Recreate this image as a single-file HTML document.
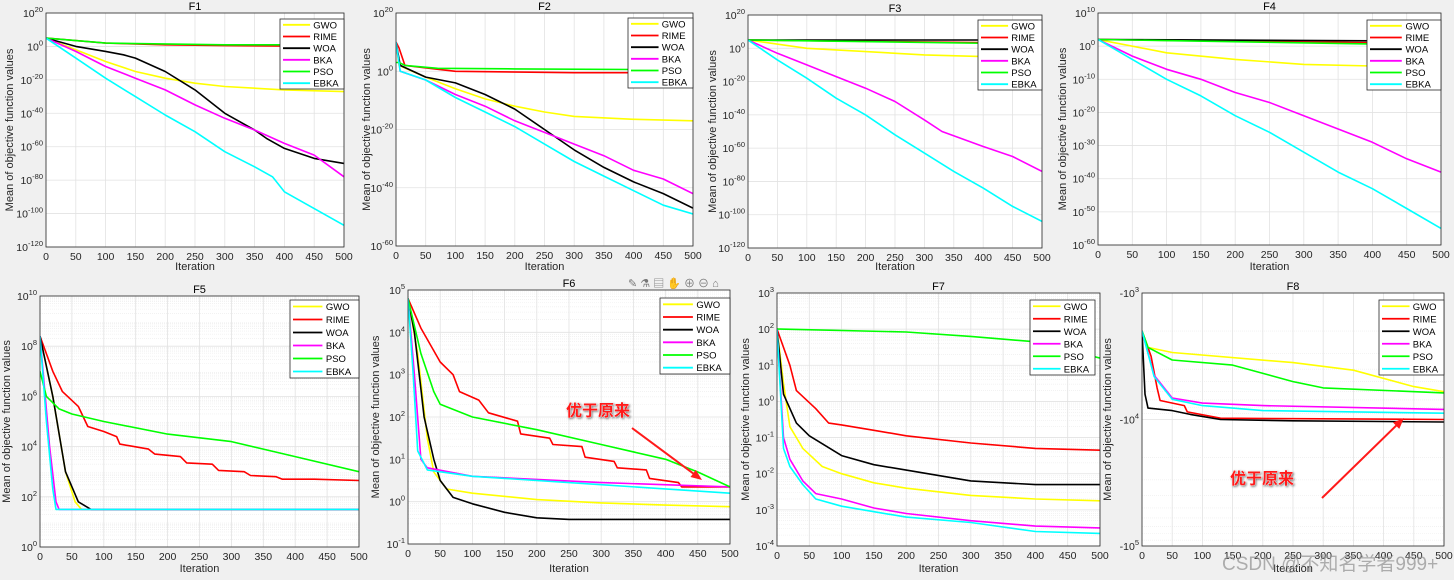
<!DOCTYPE html>
<html><head><meta charset="utf-8"><style>
html,body{margin:0;padding:0;background:#f0f0f0;}
svg{display:block;font-family:"Liberation Sans","Noto Sans CJK SC",sans-serif;}
</style></head><body>
<svg id="fig" width="1454" height="580" viewBox="0 0 1454 580" xmlns="http://www.w3.org/2000/svg">
<rect x="0" y="0" width="1454" height="580" fill="#f0f0f0"/>
</svg>
<script>
// Data: [iteration, log10(value)] pairs
const SERIES_NAMES = ["GWO","RIME","WOA","BKA","PSO","EBKA"];
const SERIES_COLORS = ["#ffff00","#ff0000","#000000","#ff00ff","#00ff00","#00ffff"];
const X_TICKS = [0,50,100,150,200,250,300,350,400,450,500];

const F1_GWO=[[0,5],[50,-2],[100,-9],[150,-15],[200,-19],[250,-22],[300,-24],[400,-26],[500,-27]];
const F1_RIME=[[0,5],[100,2],[200,1],[300,0.5],[500,0]];
const F1_WOA=[[0,5],[50,0],[100,-3],[130,-5],[150,-7],[200,-15],[250,-26],[300,-40],[350,-50],[370,-55],[400,-61],[450,-67],[500,-70]];
const F1_BKA=[[0,5],[50,-3],[100,-12],[150,-19],[200,-26],[250,-35],[300,-43],[350,-50],[400,-58],[450,-65],[500,-78]];
const F1_PSO=[[0,5],[100,2],[300,1],[500,1]];
const F1_EBKA=[[0,5],[50,-7],[100,-19],[150,-30],[200,-41],[250,-51],[300,-63],[350,-72],[380,-78],[400,-87],[450,-97],[500,-107]];

const F2_GWO=[[0,10],[5,2],[50,-2],[100,-6],[150,-9.5],[200,-12],[250,-14],[300,-15.5],[400,-16.5],[500,-17]];
const F2_RIME=[[0,10],[5,8],[15,2],[100,0],[300,-0.5],[500,-0.5]];
const F2_WOA=[[0,10],[7,2],[50,-2],[100,-4],[150,-8],[200,-13],[250,-20],[300,-27],[350,-33],[400,-38],[450,-42],[500,-47]];
const F2_BKA=[[0,10],[7,0],[50,-3],[100,-8],[150,-12],[200,-17],[250,-21],[300,-25],[350,-29],[400,-34],[450,-37],[500,-42]];
const F2_PSO=[[0,3],[5,3],[15,2],[70,1],[200,0.8],[500,0.5]];
const F2_EBKA=[[0,10],[7,0],[50,-3],[100,-9],[150,-14],[200,-19],[250,-25],[300,-31],[350,-36],[400,-41],[450,-46],[500,-49]];

const F3_GWO=[[0,5],[100,0],[200,-2],[300,-4],[400,-5],[500,-6]];
const F3_RIME=[[0,5],[500,3]];
const F3_WOA=[[0,5],[500,5]];
const F3_BKA=[[0,5],[50,-3],[100,-10],[150,-17],[200,-24],[250,-32],[300,-43],[330,-50],[400,-59],[450,-65],[500,-74]];
const F3_PSO=[[0,5],[500,2.5]];
const F3_EBKA=[[0,5],[50,-7],[100,-18],[150,-30],[200,-40],[250,-52],[300,-63],[350,-74],[400,-84],[450,-95],[500,-104]];

const F4_GWO=[[0,2],[100,-2],[200,-4],[300,-5.5],[400,-6],[500,-6.5]];
const F4_RIME=[[0,2],[500,0.8]];
const F4_WOA=[[0,2],[500,1.5]];
const F4_BKA=[[0,2],[50,-3],[100,-7],[150,-10],[200,-14],[250,-17],[300,-21],[350,-25],[400,-29],[450,-34],[500,-38]];
const F4_PSO=[[0,2],[500,0.3]];
const F4_EBKA=[[0,2],[50,-4],[100,-10],[150,-15],[200,-21],[250,-26],[300,-32],[350,-38],[400,-43],[450,-49],[500,-55]];

const F5_GWO=[[0,8.4],[20,6],[40,3],[55,1.8],[65,1.5],[500,1.5]];
const F5_RIME=[[0,8.4],[20,7],[35,6.2],[60,5.6],[75,4.8],[100,4.6],[120,4.4],[125,4.1],[170,3.9],[180,3.7],[220,3.6],[230,3.35],[270,3.3],[280,3.05],[320,3.0],[330,2.85],[370,2.8],[380,2.7],[430,2.7],[500,2.65]];
const F5_WOA=[[0,8.4],[20,6],[40,3],[60,1.8],[80,1.5],[500,1.5]];
const F5_BKA=[[0,8.4],[15,4],[25,1.8],[30,1.5],[500,1.5]];
const F5_PSO=[[0,7],[10,6],[30,5.5],[50,5.3],[100,5],[200,4.5],[300,4.2],[400,3.6],[500,3]];
const F5_EBKA=[[0,8.4],[10,5],[20,2.3],[25,1.5],[500,1.5]];

const F6_GWO=[[0,4.8],[15,3.5],[30,1.5],[40,0.7],[60,0.3],[100,0.2],[200,0.05],[300,-0.03],[400,-0.08],[500,-0.12]];
const F6_RIME=[[0,4.8],[20,4.1],[50,3.3],[70,3.0],[80,2.6],[110,2.4],[125,2.1],[170,1.9],[175,1.6],[220,1.5],[225,1.35],[270,1.3],[275,1.05],[320,0.95],[325,0.8],[370,0.75],[375,0.55],[420,0.45],[425,0.35],[500,0.35]];
const F6_WOA=[[0,4.8],[10,4],[25,2],[40,1],[50,0.5],[70,0.1],[100,-0.05],[150,-0.25],[200,-0.38],[250,-0.42],[500,-0.42]];
const F6_BKA=[[0,4.8],[10,3],[20,1],[30,0.8],[100,0.6],[300,0.45],[500,0.35]];
const F6_PSO=[[0,4.8],[20,3.5],[40,2.6],[50,2.3],[100,2],[200,1.7],[300,1.35],[400,1],[450,0.7],[500,0.35]];
const F6_EBKA=[[0,4.8],[8,3],[15,1.2],[30,0.75],[100,0.6],[300,0.4],[500,0.2]];

const F7_GWO=[[0,2],[10,0.5],[20,-0.7],[40,-1.3],[70,-1.8],[100,-2],[150,-2.25],[200,-2.4],[300,-2.6],[400,-2.7],[500,-2.75]];
const F7_RIME=[[0,2],[20,1],[30,0.3],[60,-0.2],[80,-0.6],[100,-0.65],[150,-0.8],[200,-0.95],[300,-1.15],[400,-1.3],[500,-1.35]];
const F7_WOA=[[0,2],[10,0.2],[30,-0.6],[50,-0.95],[100,-1.5],[150,-1.75],[200,-1.9],[300,-2.2],[400,-2.3],[500,-2.3]];
const F7_BKA=[[0,2],[10,-1],[20,-1.6],[40,-2.2],[60,-2.55],[100,-2.7],[150,-2.95],[200,-3.1],[300,-3.3],[400,-3.45],[500,-3.5]];
const F7_PSO=[[0,2],[5,2],[200,1.92],[300,1.8],[400,1.65],[500,1.2]];
const F7_EBKA=[[0,2],[10,-1.3],[20,-1.8],[40,-2.3],[60,-2.7],[100,-2.9],[150,-3.05],[200,-3.2],[300,-3.35],[400,-3.6],[500,-3.65]];

// F8 values are negative: stored as log10(|value|)
const F8_GWO=[[0,3.3],[10,3.43],[50,3.47],[250,3.55],[350,3.61],[450,3.74],[500,3.78]];
const F8_RIME=[[0,3.3],[15,3.5],[25,3.75],[30,3.85],[70,3.89],[75,3.94],[130,3.99],[500,4.0]];
const F8_WOA=[[0,3.3],[5,3.8],[10,3.91],[50,3.93],[80,3.96],[130,4.0],[250,4.01],[500,4.02]];
const F8_BKA=[[0,3.3],[20,3.65],[50,3.83],[100,3.87],[200,3.89],[500,3.92]];
const F8_PSO=[[0,3.3],[10,3.43],[50,3.53],[150,3.57],[250,3.7],[300,3.75],[500,3.79]];
const F8_EBKA=[[0,3.3],[20,3.66],[50,3.84],[100,3.89],[200,3.93],[500,3.95]];

const F1_YTICKS=[20,0,-20,-40,-60,-80,-100,-120];
const F2_YTICKS=[20,0,-20,-40,-60];
const F3_YTICKS=[20,0,-20,-40,-60,-80,-100,-120];
const F4_YTICKS=[10,0,-10,-20,-30,-40,-50,-60];
const F5_YTICKS=[10,8,6,4,2,0];
const F6_YTICKS=[5,4,3,2,1,0,-1];
const F7_YTICKS=[3,2,1,0,-1,-2,-3,-4];
const F8_YTICKS=[3,4,5];

const NS="http://www.w3.org/2000/svg";
const svg=document.getElementById('fig');
function mk(tag,attrs,parent){const e=document.createElementNS(NS,tag);for(const k in attrs)e.setAttribute(k,attrs[k]);(parent||svg).appendChild(e);return e;}

const panels=[
 {t:"F1",L:46,R:344,T:13,B:247,ymax:20,ymin:-120,ticks:F1_YTICKS,data:[F1_GWO,F1_RIME,F1_WOA,F1_BKA,F1_PSO,F1_EBKA],leg:[280,19,64,70],yl:9,xl:270,minor:false},
 {t:"F2",L:396,R:693,T:13,B:246,ymax:20,ymin:-60,ticks:F2_YTICKS,data:[F2_GWO,F2_RIME,F2_WOA,F2_BKA,F2_PSO,F2_EBKA],leg:[628,18,65,70],yl:366,xl:270,minor:false},
 {t:"F3",L:748,R:1042,T:15,B:248,ymax:20,ymin:-120,ticks:F3_YTICKS,data:[F3_GWO,F3_RIME,F3_WOA,F3_BKA,F3_PSO,F3_EBKA],leg:[978,20,64,70],yl:712,xl:270,minor:false},
 {t:"F4",L:1098,R:1441,T:13,B:245,ymax:10,ymin:-60,ticks:F4_YTICKS,data:[F4_GWO,F4_RIME,F4_WOA,F4_BKA,F4_PSO,F4_EBKA],leg:[1367,20,74,70],yl:1062,xl:270,minor:false},
 {t:"F5",L:40,R:359,T:296,B:547,ymax:10,ymin:0,ticks:F5_YTICKS,data:[F5_GWO,F5_RIME,F5_WOA,F5_BKA,F5_PSO,F5_EBKA],leg:[290,300,69,78],yl:6,xl:572,minor:true},
 {t:"F6",L:408,R:730,T:290,B:544,ymax:5,ymin:-1,ticks:F6_YTICKS,data:[F6_GWO,F6_RIME,F6_WOA,F6_BKA,F6_PSO,F6_EBKA],leg:[660,298,70,76],yl:375,xl:572,minor:true},
 {t:"F7",L:777,R:1100,T:293,B:546,ymax:3,ymin:-4,ticks:F7_YTICKS,data:[F7_GWO,F7_RIME,F7_WOA,F7_BKA,F7_PSO,F7_EBKA],leg:[1030,300,65,75],yl:745,xl:572,minor:true},
 {t:"F8",L:1142,R:1444,T:293,B:546,ymax:3,ymin:5,ticks:F8_YTICKS,data:[F8_GWO,F8_RIME,F8_WOA,F8_BKA,F8_PSO,F8_EBKA],leg:[1379,300,65,75],yl:1107,xl:572,minor:true,neg:true}
];

panels.forEach((p,pi)=>{
 const g=mk('g',{});
 
 
 const sx=v=>p.L+(v/500)*(p.R-p.L);
 const sy=v=>p.T+(p.ymax-v)/(p.ymax-p.ymin)*(p.B-p.T);
 const bg=mk('rect',{x:p.L,y:p.T,width:p.R-p.L,height:p.B-p.T,fill:'#fff'},g);
 
 
 // minor grid
 if(p.minor){
  const lo=Math.min(p.ymin,p.ymax),hi=Math.max(p.ymin,p.ymax);
  for(let d=lo;d<hi;d++){for(let k=2;k<10;k++){const v=d+Math.log10(k);const yy=sy(v);
   mk('line',{x1:p.L,x2:p.R,y1:yy,y2:yy,stroke:'#ececec','stroke-width':0.6,'stroke-dasharray':'1,1'},g);}}
 }
 X_TICKS.forEach(xv=>{const xx=sx(xv);
  mk('line',{x1:xx,x2:xx,y1:p.T,y2:p.B,stroke:'#e2e2e2','stroke-width':0.8},g);
  const tl=mk('text',{x:xx,y:p.B+13,'font-size':10.5,'text-anchor':'middle',fill:'#262626'},g);
  tl.textContent=xv;
  
  
 });
 p.ticks.forEach(tv=>{const yy=sy(tv);
  mk('line',{x1:p.L,x2:p.R,y1:yy,y2:yy,stroke:'#e2e2e2','stroke-width':0.8},g);
  const tl=mk('text',{x:p.L-3,y:yy+4,'font-size':10.5,'text-anchor':'end',fill:'#262626'},g);
  
  
  const b=document.createElementNS(NS,'tspan');b.textContent=(p.neg?'-10':'10');tl.appendChild(b);
  const s=document.createElementNS(NS,'tspan');s.setAttribute('dy','-5');s.setAttribute('font-size','7.5');s.textContent=tv;tl.appendChild(s);
 });
 const cp='clip'+pi;
 const c=mk('clipPath',{id:cp},g);mk('rect',{x:p.L,y:p.T,width:p.R-p.L,height:p.B-p.T},c);
 p.data.forEach((ser,si)=>{
  const pts=ser.map(d=>sx(d[0]).toFixed(1)+','+sy(d[1]).toFixed(1)).join(' ');
  const pl=mk('polyline',{points:pts,fill:'none',stroke:SERIES_COLORS[si],'stroke-width':1.6,'clip-path':'url(#'+cp+')','stroke-linejoin':'round'},g);
  
  
 });
 mk('rect',{x:p.L,y:p.T,width:p.R-p.L,height:p.B-p.T,fill:'none',stroke:'#262626','stroke-width':0.8},g);
 const tt=mk('text',{x:(p.L+p.R)/2,y:p.T-3,'font-size':11,'text-anchor':'middle',fill:'#000'},g);
 tt.textContent=p.t;
 
 
 const xt=mk('text',{x:(p.L+p.R)/2,y:p.xl,'font-size':11,'text-anchor':'middle',fill:'#262626'},g);
 xt.textContent='Iteration';
 
 
 const cy=(p.T+p.B)/2;
 const yt=mk('text',{x:p.yl,y:cy,'font-size':11,'text-anchor':'middle',fill:'#262626',transform:'rotate(-90 '+p.yl+' '+cy+')',dy:'4'},g);
 yt.textContent='Mean of objective function values';
 
 
 // legend
 const [lx,ly,lw,lh]=p.leg;
 const lg=mk('g',{},g);
 
 
 mk('rect',{x:lx,y:ly,width:lw,height:lh,fill:'#fff',stroke:'#262626','stroke-width':0.8},lg);
 const rh=lh/6;
 SERIES_NAMES.forEach((n,si)=>{const yy=ly+rh*(si+0.5);
  const e=mk('g',{},lg);
  
  
  mk('line',{x1:lx+3,x2:lx+lw*0.47,y1:yy,y2:yy,stroke:SERIES_COLORS[si],'stroke-width':1.8},e);
  const t=mk('text',{x:lx+lw*0.52,y:yy+3.5,'font-size':9.5,fill:'#000'},e);t.textContent=n;
 });
});

// annotations
function note(x,y,name){const t=mk('text',{x:x,y:y,'font-size':16,'font-weight':'bold',fill:'#ff1a1a',stroke:'#ffffff','stroke-width':0.6,style:'paint-order:stroke;filter:drop-shadow(1px 1px 1px rgba(0,0,0,0.5))'});
 t.textContent='优于原来';}
note(566,416,'annotation-text-f6');
note(1230,484,'annotation-text-f8');
function arrow(x1,y1,x2,y2,name){const a=Math.atan2(y2-y1,x2-x1);const g=mk('g',{});
 
 mk('line',{x1:x1,y1:y1,x2:x2-8*Math.cos(a),y2:y2-8*Math.sin(a),stroke:'#ff1a1a','stroke-width':2},g);
 const p1=[x2-11*Math.cos(a)+4.5*Math.sin(a),y2-11*Math.sin(a)-4.5*Math.cos(a)];
 const p2=[x2-11*Math.cos(a)-4.5*Math.sin(a),y2-11*Math.sin(a)+4.5*Math.cos(a)];
 mk('polygon',{points:x2+','+y2+' '+p1.join(',')+' '+p2.join(','),fill:'#ff1a1a'},g);}
arrow(632,428,702,480,'annotation-arrow-f6');
arrow(1322,498,1404,418,'annotation-arrow-f8');

// toolbar icons
const tb=mk('text',{x:628,y:287,'font-size':11,fill:'#777'});
tb.textContent='✎ ⚗ ▤ ✋ ⊕ ⊖ ⌂';


// watermark
const wm=mk('text',{x:1222,y:570,'font-size':19,fill:'rgba(150,150,150,0.75)'});
wm.textContent='CSDN @不知名学者999+';


</script>
</body></html>
